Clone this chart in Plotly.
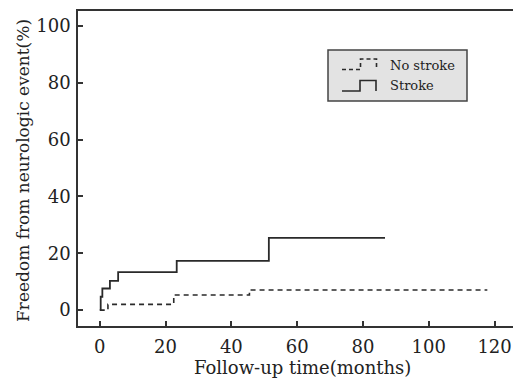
import plotly.graph_objects as go

# Data
stroke_months = [0.3, 0.3, 0.8, 3.1, 5.6, 23.4, 51.4, 86.7]
stroke_freedom = [0, 4.7, 7.6, 10.3, 13.4, 17.3, 25.4, 25.4]
nostroke_months = [0, 2.5, 22.5, 45.5, 117.8]
nostroke_freedom = [0, 2.0, 5.3, 7.1, 7.1]
x_ticks = [0, 20, 40, 60, 80, 100, 120]
y_ticks = [0, 20, 40, 60, 80, 100]

W, H = 513, 379
L, R, T, B = 78, 0, 11, 53
FONT = "DejaVu Serif"
INK = "#2a2a2a"

fig = go.Figure()
fig.add_trace(go.Scatter(x=nostroke_months, y=nostroke_freedom, mode="lines",
                         line=dict(shape="hv", color=INK, width=1.6, dash="5px,4px"),
                         name="No stroke", showlegend=False))
fig.add_trace(go.Scatter(x=stroke_months, y=stroke_freedom, mode="lines",
                         line=dict(shape="hv", color=INK, width=1.8),
                         name="Stroke", showlegend=False))

def px(xp):
    return (xp - L) / (W - L - R)

def py(yp):
    return 1 - (yp - T) / (H - T - B)

# custom legend box with step glyphs
shapes = [
    dict(type="rect", xref="paper", yref="paper", x0=px(328), x1=px(467), y0=py(101), y1=py(50),
         fillcolor="#e3e3e3", line=dict(color="#444", width=1.5), layer="above"),
]
def path(pts):
    return "M " + " L ".join(f"{px(a):.5f},{py(b):.5f}" for a, b in pts)
shapes.append(dict(type="path", xref="paper", yref="paper",
                   path=path([(342, 69.5), (360.5, 69.5), (360.5, 59), (376.5, 59), (376.5, 69.5)]),
                   line=dict(color=INK, width=1.6, dash="4px,3px"), layer="above"))
shapes.append(dict(type="path", xref="paper", yref="paper",
                   path=path([(342, 91), (360, 91), (360, 80.5), (376, 80.5), (376, 91)]),
                   line=dict(color=INK, width=1.6), layer="above"))

annotations = [
    dict(text="No stroke", xref="paper", yref="paper", x=px(388), y=py(65), xanchor="left",
         yanchor="middle", showarrow=False, font=dict(family=FONT, size=13, color="#222")),
    dict(text="Stroke", xref="paper", yref="paper", x=px(388), y=py(85), xanchor="left",
         yanchor="middle", showarrow=False, font=dict(family=FONT, size=13, color="#222")),
    dict(text="Follow-up time(months)", xref="paper", yref="paper", x=px(302), y=py(367),
         xanchor="center", yanchor="middle", showarrow=False,
         font=dict(family=FONT, size=18, color="#222")),
    dict(text="Freedom from neurologic event(%)", xref="paper", yref="paper", x=px(23), y=py(171),
         xanchor="center", yanchor="middle", showarrow=False, textangle=-90,
         font=dict(family=FONT, size=17, color="#222")),
]

fig.update_layout(
    width=W, height=H,
    margin=dict(l=L, r=R, t=T, b=B, autoexpand=False),
    paper_bgcolor="white", plot_bgcolor="white",
    font=dict(family=FONT, size=18, color="#222"),
    shapes=shapes, annotations=annotations,
    showlegend=False,
)
fig.update_xaxes(range=[-6.6, 125.6], tickvals=x_ticks, ticks="inside", ticklen=5,
                 tickcolor="#333", tickwidth=1.5, showline=True, linecolor="#333", linewidth=1.5,
                 mirror=True, showgrid=False, zeroline=False, automargin=False,
                 tickfont=dict(size=18), ticklabelstandoff=4)
fig.update_yaxes(range=[-5.6, 105.3], tickvals=y_ticks, ticks="inside", ticklen=5,
                 tickcolor="#333", tickwidth=1.5, showline=True, linecolor="#333", linewidth=1.5,
                 mirror=False, showgrid=False, zeroline=False, automargin=False,
                 tickfont=dict(size=18), ticklabelstandoff=2)

fig.write_html("out.html", config={"displayModeBar": False},
               post_script="document.body.style.margin='0';document.body.style.padding='0';")
